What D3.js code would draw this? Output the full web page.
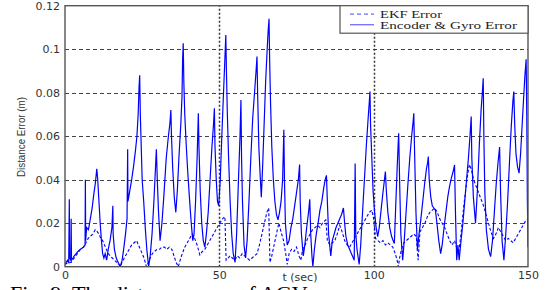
<!DOCTYPE html>
<html>
<head>
<meta charset="utf-8">
<script src="https://cdn.jsdelivr.net/npm/d3@7"></script>
<style>
  body { margin: 0; background: #fff; }
  .tick text { font-family: "DejaVu Sans", Verdana, sans-serif; font-size: 11px; fill: #333; }
</style>
</head>
<body>
<div id="chart"></div>
<script>
// time (s), error (m)
const encoderGyroError = [
  [0,0.001],[0.8,0.003],[1.2,0.002],[1.4,0.031],[1.5,0.004],[1.9,0.003],[2.0,0.022],[2.1,0.003],
  [2.6,0.004],[3.0,0.005],[3.6,0.006],[4.2,0.007],[5.0,0.008],[6.0,0.009],[6.5,0.010],[6.6,0.040],
  [6.7,0.012],[7.0,0.018],[7.6,0.017],[8.2,0.022],[8.8,0.027],[9.3,0.033],[9.8,0.038],[10.3,0.045],
  [10.6,0.040],[11.0,0.030],[11.4,0.020],[11.8,0.012],[12.2,0.006],[12.6,0.004],[13.0,0.006],[13.5,0.003],
  [14.0,0.008],[14.6,0.012],[15.2,0.018],[15.5,0.028],[15.6,0.015],[16.0,0.008],[16.6,0.004],[17.2,0.002],
  [17.9,0.000],[18.5,0.003],[19.0,0.008],[19.6,0.015],[20.1,0.022],[20.3,0.054],[20.4,0.030],[21.0,0.035],
  [21.6,0.040],[22.2,0.046],[22.8,0.053],[23.3,0.060],[23.7,0.070],[24.0,0.083],[24.2,0.088],[24.4,0.070],
  [24.7,0.055],[25.0,0.040],[25.5,0.030],[26.0,0.018],[26.5,0.008],[27.1,0.000],[27.6,0.005],[28.2,0.015],
  [28.8,0.030],[29.3,0.045],[29.6,0.054],[29.9,0.040],[30.3,0.025],[30.8,0.012],[31.4,0.020],[32.0,0.032],
  [32.8,0.050],[33.5,0.060],[34.0,0.066],[34.3,0.072],[34.5,0.060],[34.9,0.045],[35.4,0.032],[35.9,0.025],
  [36.4,0.035],[36.9,0.050],[37.5,0.065],[37.9,0.078],[38.1,0.095],[38.3,0.1027],[38.5,0.085],[38.8,0.070],
  [39.2,0.058],[39.7,0.045],[40.3,0.032],[40.9,0.020],[41.4,0.012],[41.8,0.015],[42.3,0.030],[42.8,0.050],
  [43.2,0.0706],[43.4,0.055],[43.8,0.035],[44.3,0.020],[44.8,0.012],[45.3,0.009],[45.8,0.015],[46.4,0.025],
  [47.0,0.040],[47.6,0.055],[48.1,0.065],[48.4,0.0728],[48.6,0.055],[49.0,0.040],[49.4,0.030],[49.8,0.028],
  [50.3,0.040],[50.8,0.060],[51.3,0.078],[51.7,0.092],[52.1,0.1065],[52.3,0.090],[52.6,0.070],[53.0,0.050],
  [53.5,0.030],[54.0,0.015],[54.5,0.006],[55.1,0.002],[55.6,0.015],[56.2,0.040],[56.7,0.060],[57.0,0.0766],
  [57.2,0.050],[57.5,0.030],[58.0,0.010],[58.5,0.004],[59.0,0.012],[59.6,0.030],[60.2,0.050],[60.8,0.068],
  [61.4,0.080],[61.9,0.090],[62.2,0.0966],[62.4,0.080],[62.8,0.055],[63.3,0.040],[63.6,0.032],[64.0,0.045],
  [64.5,0.065],[65.0,0.085],[65.5,0.100],[65.8,0.108],[66.1,0.114],[66.3,0.095],[66.6,0.075],[67.0,0.055],
  [67.5,0.040],[68.0,0.030],[68.5,0.024],[69.0,0.0215],[69.5,0.025],[70.0,0.030],[70.5,0.040],[70.9,0.063],
  [71.1,0.040],[71.4,0.020],[72.0,0.010],[72.6,0.012],[73.2,0.018],[73.8,0.022],[74.4,0.028],[75.0,0.034],
  [75.6,0.040],[76.0,0.047],[76.2,0.030],[76.6,0.015],[77.2,0.005],[77.7,0.010],[78.3,0.018],[78.9,0.025],
  [79.3,0.031],[79.6,0.015],[80.0,0.005],[80.3,0.000],[80.8,0.008],[81.4,0.015],[82.0,0.020],[82.6,0.026],
  [83.2,0.030],[83.8,0.036],[84.3,0.040],[84.7,0.042],[85.0,0.030],[85.4,0.015],[86.1,0.005],[86.6,0.012],
  [87.2,0.015],[87.8,0.018],[88.4,0.020],[89.0,0.022],[89.6,0.024],[90.2,0.027],[90.6,0.020],[91.0,0.014],
  [91.6,0.010],[92.2,0.008],[92.8,0.006],[93.4,0.004],[93.7,0.003],[94.0,0.0475],[94.2,0.015],[94.6,0.008],
  [95.3,0.001],[95.8,0.010],[96.4,0.025],[97.0,0.040],[97.6,0.055],[98.2,0.068],[98.6,0.076],[98.8,0.0805],
  [99.0,0.065],[99.4,0.050],[99.8,0.035],[100.3,0.025],[100.8,0.018],[101.3,0.0138],[101.8,0.018],[102.4,0.026],
  [103.0,0.034],[103.5,0.040],[103.8,0.0437],[104.1,0.035],[104.6,0.025],[105.2,0.018],[105.8,0.014],[106.3,0.012],
  [106.7,0.0107],[107.2,0.030],[107.6,0.045],[107.9,0.055],[108.1,0.0613],[108.4,0.040],[108.8,0.015],[109.4,0.003],
  [109.9,0.012],[110.5,0.025],[111.1,0.038],[111.7,0.050],[112.3,0.060],[112.8,0.067],[113.0,0.0705],[113.3,0.050],
  [113.7,0.025],[114.2,0.0077],[114.7,0.015],[115.3,0.022],[115.9,0.030],[116.5,0.038],[117.1,0.045],[117.5,0.048],
  [117.7,0.0506],[118.0,0.040],[118.5,0.032],[119.0,0.028],[119.5,0.027],[120.0,0.026],[120.5,0.020],[121.1,0.012],
  [121.7,0.006],[122.2,0.010],[122.8,0.018],[123.4,0.025],[124.0,0.032],[124.6,0.037],[125.2,0.041],[125.8,0.044],
  [126.2,0.0468],[126.5,0.025],[126.9,0.003],[127.3,0.010],[127.7,0.003],[128.3,0.012],[128.9,0.020],[129.5,0.030],
  [130.1,0.040],[130.7,0.050],[131.2,0.060],[131.6,0.069],[131.8,0.050],[132.3,0.032],[133.0,0.020],[133.6,0.035],
  [134.2,0.055],[134.8,0.072],[135.2,0.080],[135.5,0.0866],[135.7,0.060],[136.0,0.035],[136.5,0.017],[137.2,0.008],
  [137.9,0.0046],[138.5,0.012],[139.1,0.025],[139.7,0.038],[140.3,0.048],[140.8,0.055],[141.1,0.035],[141.6,0.012],
  [142.2,0.003],[142.8,0.015],[143.4,0.030],[144.0,0.048],[144.6,0.065],[145.1,0.076],[145.4,0.0805],[145.7,0.065],
  [146.1,0.052],[146.6,0.046],[147.1,0.043],[147.6,0.052],[148.1,0.065],[148.6,0.078],[149.0,0.088],[149.4,0.0954],
  [149.6,0.070],[149.8,0.030],[150.0,0.009]
];

const ekfError = [
  [0,0.001],[1,0.002],[2,0.002],[3,0.004],[4,0.006],[5,0.008],[6,0.009],[6.8,0.011],[7.5,0.013],[8.2,0.014],
  [9.0,0.015],[9.8,0.017],[10.5,0.016],[11.0,0.015],[11.6,0.013],[12.2,0.012],[12.8,0.010],[13.4,0.008],
  [14.0,0.006],[14.6,0.005],[15.3,0.004],[16.0,0.003],[16.8,0.002],[17.5,0.001],[17.9,0.000],[18.5,0.002],
  [19.2,0.004],[20.0,0.006],[20.8,0.008],[21.6,0.010],[22.4,0.011],[23.2,0.012],[23.8,0.010],[24.4,0.008],
  [25.0,0.006],[25.6,0.004],[26.0,0.002],[26.4,0.000],[27.0,0.002],[27.6,0.004],[28.3,0.006],[29.0,0.007],
  [29.8,0.008],[30.6,0.008],[31.4,0.009],[32.2,0.009],[33.0,0.008],[33.8,0.009],[34.6,0.008],[35.3,0.005],
  [36.0,0.002],[36.7,0.000],[37.3,0.003],[38.0,0.006],[38.8,0.009],[39.6,0.011],[40.4,0.013],[41.2,0.015],
  [42.0,0.013],[42.8,0.010],[43.7,0.0054],[44.5,0.007],[45.3,0.008],[46.1,0.010],[46.9,0.012],[47.7,0.014],
  [48.5,0.016],[49.3,0.018],[50.1,0.020],[51.0,0.022],[51.8,0.023],[52.2,0.003],[52.8,0.004],[53.5,0.005],
  [54.2,0.004],[55.0,0.003],[55.8,0.005],[56.6,0.004],[57.4,0.006],[58.2,0.005],[59.0,0.004],[59.8,0.003],
  [60.6,0.004],[61.4,0.005],[62.2,0.006],[63.0,0.010],[63.8,0.015],[64.6,0.020],[65.4,0.025],[66.0,0.027],
  [66.4,0.002],[67.0,0.005],[67.6,0.009],[68.2,0.013],[68.8,0.017],[69.3,0.020],[70.0,0.016],[70.8,0.012],
  [71.5,0.006],[72.0,0.001],[72.6,0.006],[73.4,0.008],[74.2,0.007],[75.0,0.009],[75.8,0.005],[76.4,0.003],
  [77.0,0.008],[77.8,0.010],[78.6,0.013],[79.4,0.015],[80.2,0.017],[81.0,0.018],[81.8,0.019],[82.6,0.018],
  [83.4,0.020],[84.5,0.0215],[85.0,0.012],[85.8,0.010],[86.6,0.011],[87.4,0.012],[88.2,0.015],[89.0,0.019],
  [89.8,0.016],[90.6,0.012],[91.4,0.010],[92.2,0.009],[93.0,0.011],[93.8,0.013],[94.6,0.015],[95.4,0.017],
  [96.2,0.019],[97.0,0.021],[97.8,0.023],[98.6,0.025],[99.4,0.026],[100.0,0.022],[100.6,0.013],[101.4,0.012],
  [102.2,0.011],[103.0,0.012],[103.8,0.010],[104.6,0.011],[105.4,0.010],[106.2,0.009],[107.0,0.006],[107.6,0.003],
  [108.0,0.000],[108.4,0.004],[109.0,0.008],[109.8,0.011],[110.6,0.012],[111.4,0.013],[112.2,0.014],[113.0,0.015],
  [113.8,0.014],[114.4,0.003],[115.0,0.016],[115.8,0.018],[116.6,0.020],[117.4,0.023],[118.2,0.025],[119.0,0.026],
  [119.8,0.027],[120.6,0.025],[121.4,0.022],[122.2,0.020],[123.0,0.018],[123.8,0.015],[124.6,0.012],[125.4,0.010],
  [126.2,0.012],[127.5,0.006],[128.3,0.015],[129.2,0.028],[130.2,0.040],[131.0,0.047],[131.6,0.045],[132.4,0.040],
  [133.2,0.037],[134.0,0.034],[134.8,0.031],[135.6,0.028],[136.4,0.024],[137.2,0.020],[138.0,0.016],[138.8,0.013],
  [139.6,0.015],[140.4,0.018],[141.2,0.016],[142.0,0.014],[142.8,0.012],[143.6,0.013],[144.4,0.012],[145.2,0.011],
  [146.0,0.013],[146.8,0.015],[147.6,0.017],[148.4,0.019],[149.2,0.021],[150.0,0.022]
];

const xTicks = [0, 50, 100, 150];
const yTicks = [0, 0.02, 0.04, 0.06, 0.08, 0.1, 0.12];
const yTickLabels = ['0', '0.02', '0.04', '0.06', '0.08', '0.1', '0.12'];
const seriesNames = ['EKF Error', 'Encoder & Gyro Error'];

const width = 549, height = 290;
const margin = {top: 5.7, right: 21, bottom: 23.3, left: 65};

const svg = d3.select('#chart').append('svg')
    .attr('width', width)
    .attr('height', height);

const x = d3.scaleLinear().domain([0, 150]).range([margin.left, width - margin.right]);
const y = d3.scaleLinear().domain([0, 0.12]).range([height - margin.bottom, margin.top]);

svg.append('defs').append('clipPath').attr('id', 'plot-clip')
  .append('rect')
    .attr('x', x(0)).attr('y', y(0.12))
    .attr('width', x(150) - x(0)).attr('height', y(0) - y(0.12));

// grid
svg.append('g')
  .selectAll('line')
  .data(yTicks.filter(d => d > 0 && d < 0.12))
  .join('line')
    .attr('x1', x(0)).attr('x2', x(150))
    .attr('y1', d => Math.round(y(d)) + 0.5).attr('y2', d => Math.round(y(d)) + 0.5)
    .attr('stroke', '#444')
    .attr('stroke-dasharray', '4,3');

svg.append('g')
  .selectAll('line')
  .data(xTicks.filter(d => d > 0 && d < 150))
  .join('line')
    .attr('x1', d => Math.round(x(d)) + 0.5).attr('x2', d => Math.round(x(d)) + 0.5)
    .attr('y1', y(0)).attr('y2', y(0.12))
    .attr('stroke', '#333')
    .attr('stroke-width', 1.5)
    .attr('stroke-dasharray', '2,2');

// data lines
const line = d3.line().x(d => x(d[0])).y(d => y(d[1]));
const plot = svg.append('g').attr('clip-path', 'url(#plot-clip)');

plot.append('path')
    .datum(ekfError)
    .attr('fill', 'none')
    .attr('stroke', '#0000ff')
    .attr('stroke-width', 1.1)
    .attr('stroke-dasharray', '3,2')
    .attr('d', line);

plot.append('path')
    .datum(encoderGyroError)
    .attr('fill', 'none')
    .attr('stroke', '#0000ff')
    .attr('stroke-width', 1.2)
    .attr('d', line);

// frame
svg.append('rect')
    .attr('x', x(0)).attr('y', y(0.12))
    .attr('width', x(150) - x(0)).attr('height', y(0) - y(0.12))
    .attr('fill', 'none')
    .attr('stroke', '#555')
    .attr('stroke-width', 1.4);

// axes
const yAxis = svg.append('g')
    .attr('transform', `translate(${x(0) - 5},0)`)
    .call(d3.axisLeft(y).tickValues(yTicks).tickSize(0).tickPadding(0)
      .tickFormat((d, i) => yTickLabels[i]));
yAxis.select('.domain').remove();

const xAxis = svg.append('g')
    .attr('transform', `translate(0,${y(0) + 4})`)
    .call(d3.axisBottom(x).tickValues(xTicks).tickSize(0).tickPadding(0)
      .tickFormat(d3.format('d')));
xAxis.select('.domain').remove();

svg.append('text')
    .attr('x', 300).attr('y', 281)
    .attr('text-anchor', 'middle')
    .style('font-family', '"DejaVu Sans", Verdana, sans-serif')
    .style('font-size', '11px')
    .style('fill', '#333')
    .text('t (sec)');

svg.append('text')
    .attr('transform', 'translate(25,137) rotate(-90)')
    .attr('text-anchor', 'middle')
    .attr('textLength', 80)
    .attr('lengthAdjust', 'spacingAndGlyphs')
    .style('font-family', '"Liberation Sans Narrow", "Arial Narrow", Arial, sans-serif')
    .style('font-size', '11px')
    .style('fill', '#333')
    .text('Distance Error (m)');

// legend
const legend = svg.append('g').attr('transform', `translate(${x(150) - 188},${y(0.12)})`);
legend.append('rect')
    .attr('width', 188).attr('height', 27.5)
    .attr('fill', '#fff')
    .attr('stroke', '#555')
    .attr('stroke-width', 1.2);

legend.selectAll('line')
    .data(seriesNames)
  .join('line')
    .attr('x1', 10).attr('x2', 34)
    .attr('y1', (d, i) => 8.5 + i * 10.5).attr('y2', (d, i) => 8.5 + i * 10.5)
    .attr('stroke', '#6f6fff')
    .attr('stroke-width', 1.3)
    .attr('stroke-dasharray', (d, i) => i === 0 ? '4,3' : null);

legend.selectAll('text')
    .data(seriesNames)
  .join('text')
    .attr('x', 40)
    .attr('y', (d, i) => 12.5 + i * 10.5)
    .attr('textLength', (d, i) => i === 0 ? 62 : 137)
    .attr('lengthAdjust', 'spacingAndGlyphs')
    .style('font-family', '"Liberation Serif", "Times New Roman", serif')
    .style('font-size', '10.5px')
    .style('fill', '#222')
    .text(d => d);

// caption (cut off at bottom edge, as in the source)
svg.append('text')
    .attr('x', 10).attr('y', 301)
    .style('font-family', '"Liberation Serif", "Times New Roman", serif')
    .style('font-size', '22px')
    .style('fill', '#000')
    .text('Fig. 9. The distance error of AGV');
</script>
</body>
</html>
